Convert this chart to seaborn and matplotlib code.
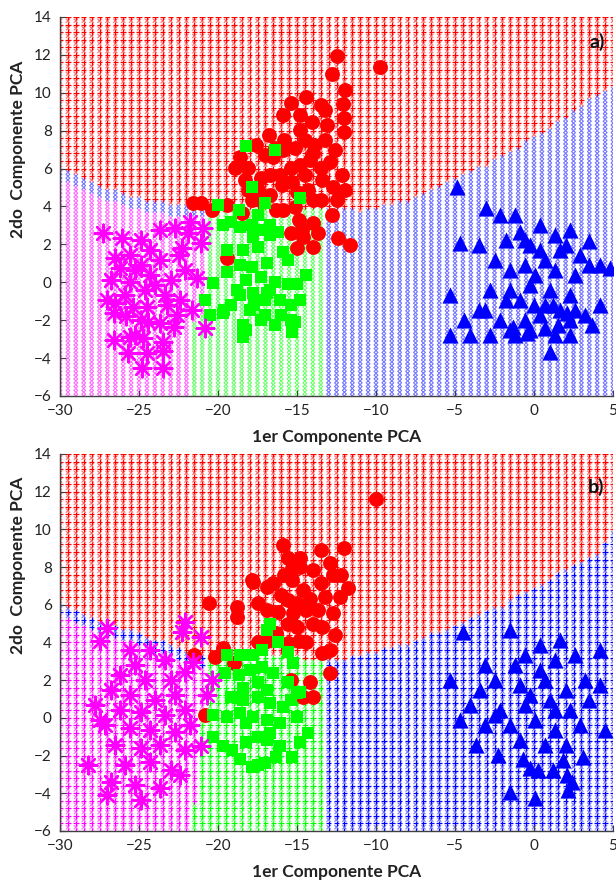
import numpy as np
import pandas as pd
import matplotlib
matplotlib.use("Agg")
import matplotlib.pyplot as plt
import seaborn as sns

# ---------------- Panel a) samples (PC1, PC2) ----------------
red_a = [(-9.75, 11.36), (-12.47, 11.94), (-12.8, 11.0), (-11.96, 10.15), (-12.1, 9.4),
         (-14.4, 9.8), (-13.5, 9.35), (-12.0, 8.67), (-12.0, 7.93), (-13.1, 8.3),
         (-15.4, 9.46), (-14.8, 8.04), (-14.05, 8.46), (-15.9, 8.83), (-16.8, 7.77),
         (-16.4, 7.09), (-17.6, 7.25), (-17.0, 6.72), (-15.8, 7.5), (-15.1, 7.09),
         (-14.5, 7.5), (-13.9, 7.25), (-13.2, 7.5), (-12.6, 6.98), (-12.9, 6.35),
         (-13.5, 6.03), (-14.2, 6.45), (-14.8, 6.19), (-15.4, 6.03), (-16.1, 5.66),
         (-16.7, 5.66), (-17.3, 5.5), (-18.1, 6.03), (-18.6, 6.61), (-18.9, 6.03),
         (-18.3, 5.4), (-17.5, 4.87), (-16.7, 4.6), (-15.95, 5.13), (-15.3, 5.29),
         (-15.0, 4.77), (-14.3, 4.87), (-14.0, 4.34), (-13.5, 4.34), (-12.7, 5.03),
         (-12.5, 4.34), (-12.15, 5.66), (-11.96, 4.87), (-16.3, 3.8), (-15.9, 3.8),
         (-15.1, 3.97), (-14.9, 3.29), (-14.0, 3.13), (-13.7, 2.6), (-15.4, 2.6),
         (-14.7, 2.76), (-14.6, 2.39), (-14.0, 1.86), (-15.0, 1.81), (-12.4, 2.34),
         (-11.65, 1.97), (-19.4, 1.28), (-21.6, 4.18), (-21.1, 4.18), (-20.4, 3.8),
         (-19.4, 4.07), (-18.5, 3.66), (-17.85, 4.34), (-16.5, 6.61), (-15.9, 6.98),
         (-14.0, 6.82), (-14.8, 8.83), (-13.4, 5.4), (-14.5, 5.66), (-12.8, 3.55),
         (-17.2, 4.34), (-18.1, 4.87), (-13.2, 9.1)]
green_a = [(-18.2, 7.2), (-16.4, 7.0), (-17.85, 5.03), (-14.8, 4.45), (-20.0, 4.07),
           (-17.0, 4.18), (-18.7, 3.8), (-17.5, 3.55), (-19.7, 3.02), (-19.2, 3.18),
           (-18.6, 2.92), (-17.85, 3.02), (-17.2, 2.76), (-16.7, 3.0), (-16.2, 2.65),
           (-17.8, 2.4), (-16.7, 2.5), (-19.4, 1.7), (-18.4, 1.7), (-17.5, 1.86),
           (-15.9, 1.6), (-15.6, 1.2), (-18.6, 0.9), (-17.85, 0.8), (-16.9, 1.0),
           (-19.4, 0.55), (-18.2, 0.1), (-17.3, 0.3), (-16.4, 0.0), (-15.6, -0.1),
           (-14.4, 0.4), (-20.3, -0.03), (-18.8, -0.4), (-17.8, -0.55), (-16.9, -0.55),
           (-15.0, -0.1), (-19.2, -1.2), (-18.0, -1.46), (-17.0, -1.7), (-16.1, -0.93),
           (-15.4, -2.0), (-16.4, -2.25), (-17.3, -2.0), (-15.1, -2.1), (-18.4, -2.25),
           (-19.6, -1.46), (-20.8, -0.93), (-20.5, -1.7), (-18.6, -0.67), (-16.7, -0.4),
           (-17.7, -1.2), (-16.0, -1.7), (-14.8, -0.93), (-15.4, -1.2), (-17.0, -0.93),
           (-18.2, -2.5), (-19.7, -1.6), (-18.4, -2.9), (-15.3, -2.6)]
magenta_a = [(-27.3, 2.6), (-26.1, 2.34), (-24.9, 2.23), (-23.7, 2.76), (-22.7, 2.87),
             (-21.9, 2.6), (-24.3, 1.7), (-25.6, 1.44), (-26.5, 1.28), (-26.2, 0.75),
             (-24.9, 0.91), (-23.7, 1.18), (-22.5, 1.44), (-26.8, 0.12), (-25.6, 0.0),
             (-24.3, 0.38), (-23.0, 0.12), (-22.1, 0.65), (-25.9, -0.67), (-24.6, -0.41),
             (-23.35, -0.67), (-22.4, -0.93), (-27.0, -0.93), (-25.25, 0.65), (-24.0, -0.14),
             (-21.8, 3.18), (-20.95, 2.87), (-21.1, 2.07), (-22.3, 1.8), (-21.3, 0.23),
             (-26.6, -1.6), (-25.8, -1.8), (-24.9, -2.0), (-24.4, -2.1), (-23.7, -2.15),
             (-22.8, -2.35), (-22.6, -1.7), (-21.65, -1.46), (-20.8, -2.4), (-26.6, -3.05),
             (-25.6, -2.9), (-25.25, -2.8), (-24.75, -2.95), (-23.5, -3.15), (-23.5, -3.6),
             (-24.5, -3.75), (-25.7, -3.75), (-24.8, -4.5), (-23.5, -4.5), (-26.5, -1.1),
             (-25.4, -1.3), (-24.5, -1.3), (-23.2, -1.2)]
blue_a = [(-4.87, 5.03), (-3.04, 3.92), (-4.7, 2.07), (-3.5, 1.97), (-1.2, 3.55),
          (-0.9, 2.65), (0.4, 3.0), (1.3, 2.5), (2.3, 2.76), (3.5, 2.2), (4.2, 0.9),
          (2.9, 1.44), (-1.8, 2.23), (-0.25, 1.97), (1.65, 1.7), (0.7, 1.18), (-0.57, 0.91),
          (-2.5, 1.18), (-1.5, 0.65), (0.06, 0.38), (1.33, 0.65), (2.6, 0.38), (3.5, 0.9),
          (-5.3, -0.67), (-2.8, -0.41), (-1.5, -0.41), (-0.25, -0.14), (1.0, -0.41),
          (2.3, -0.67), (-3.1, -1.46), (-1.8, -0.93), (-0.9, -0.93), (0.7, -1.2),
          (1.65, -1.46), (2.6, -1.46), (4.2, -1.2), (4.8, 0.75), (-5.3, -2.78),
          (-1.5, -2.5), (-0.25, -2.5), (1.33, -2.78), (2.3, -2.0), (1.0, -3.7),
          (0.4, -1.7), (-0.57, -2.0), (-1.2, -2.78), (-2.15, -2.0), (-2.8, -2.78),
          (-4.4, -2.0), (-4.05, -2.78), (3.2, -1.7), (3.7, -2.25), (-0.6, 2.23),
          (0.4, 1.7), (2.0, 1.97), (-2.15, 3.55), (-3.5, -1.46), (-1.3, -2.35),
          (-0.45, -2.7), (0.7, -2.4), (1.5, -2.25), (2.3, -2.78), (0.0, -1.2),
          (1.2, -1.2), (2.1, -1.6)]

# ---------------- Panel b) samples (PC1, PC2) ----------------
red_b = [(-10.0, 11.6), (-15.9, 9.17), (-15.6, 8.5), (-15.3, 7.95), (-14.8, 8.5),
         (-17.85, 7.3), (-20.6, 6.1), (-18.8, 5.9), (-18.8, 5.35), (-17.8, 7.2),
         (-16.9, 6.95), (-16.5, 7.15), (-17.5, 6.1), (-16.9, 5.7), (-16.0, 6.5),
         (-15.6, 6.25), (-15.0, 6.1), (-15.25, 5.55), (-14.4, 5.7), (-13.7, 5.7),
         (-14.0, 5.0), (-15.6, 5.0), (-15.0, 4.8), (-16.3, 4.5), (-16.9, 4.1),
         (-17.5, 4.0), (-15.6, 3.97), (-14.9, 4.1), (-14.4, 4.0), (-13.4, 3.45),
         (-12.9, 3.6), (-12.6, 4.4), (-12.9, 2.38), (-14.2, 1.9), (-14.0, 1.1),
         (-14.6, 1.1), (-15.4, 2.0), (-19.0, 2.9), (-19.7, 3.7), (-20.2, 3.25),
         (-21.5, 3.35), (-20.8, 0.17), (-14.8, 8.0), (-14.0, 7.85), (-12.9, 8.2),
         (-12.7, 7.6), (-13.5, 7.15), (-14.6, 6.8), (-15.3, 7.3), (-12.3, 6.4),
         (-12.7, 5.55), (-13.4, 4.8), (-12.0, 9.0), (-12.2, 7.6), (-11.8, 6.9),
         (-13.5, 8.9), (-13.2, 6.4), (-14.2, 6.3), (-16.2, 5.6), (-15.8, 7.6)]
green_b = [(-16.7, 5.0), (-16.9, 4.65), (-16.2, 4.0), (-15.6, 3.5), (-17.2, 3.6),
           (-17.85, 3.35), (-18.6, 3.35), (-19.4, 3.35), (-15.25, 2.9), (-19.55, 2.4),
           (-18.7, 2.3), (-18.0, 2.55), (-17.2, 2.7), (-16.5, 2.4), (-15.6, 1.9),
           (-15.0, 1.3), (-18.4, 1.6), (-17.5, 1.9), (-16.9, 1.5), (-19.2, 1.1),
           (-18.4, 0.95), (-17.5, 1.1), (-16.7, 0.8), (-15.9, 0.58), (-15.4, 0.95),
           (-20.3, 0.16), (-19.4, 0.05), (-18.6, 0.26), (-17.8, 0.05), (-16.9, -0.1),
           (-16.1, -0.27), (-15.0, 0.05), (-14.3, -0.8), (-20.3, -1.0), (-19.7, -1.5),
           (-19.1, -1.7), (-18.2, -1.27), (-17.5, -1.0), (-16.9, -1.17), (-16.1, -1.5),
           (-15.3, -2.07), (-14.8, -1.27), (-18.6, -2.2), (-17.85, -2.6), (-17.0, -2.4),
           (-16.3, -2.07), (-16.7, -0.8), (-18.2, -0.27), (-14.8, 1.37), (-17.5, -2.5)]
magenta_b = [(-24.3, 3.6), (-23.35, 3.07), (-25.25, 2.8), (-26.2, 2.28), (-24.6, 2.0),
             (-23.0, 2.0), (-22.1, 2.43), (-26.8, 1.46), (-25.6, 1.2), (-24.0, 0.95),
             (-22.7, 1.2), (-27.8, 0.7), (-26.2, 0.42), (-24.9, 0.32), (-23.35, 0.16),
             (-22.1, 0.42), (-27.15, -0.37), (-25.6, -0.53), (-24.3, -0.64), (-22.7, -0.75),
             (-21.8, -0.37), (-26.5, -1.44), (-24.9, -1.6), (-23.7, -1.44), (-22.1, -1.7),
             (-25.9, -2.5), (-24.3, -2.34), (-23.0, -2.76), (-28.2, -2.5), (-26.8, -3.4),
             (-25.25, -3.56), (-23.7, -3.72), (-24.9, -4.35), (-27.0, -4.1), (-22.4, -3.03),
             (-27.5, 4.1), (-27.0, 4.77), (-22.1, 5.1), (-22.3, 4.55), (-21.1, 4.3),
             (-21.6, 2.96), (-20.4, 2.0), (-20.7, 1.2), (-21.1, -1.5), (-25.6, 3.6),
             (-27.5, -0.1)]
blue_b = [(-2.3, -1.97), (-0.7, -2.2), (-0.25, -2.65), (0.25, -2.76), (1.2, -2.76),
          (1.85, -2.23), (2.1, -3.03), (2.4, -3.4), (2.15, -3.82), (3.1, -2.1),
          (-1.5, -3.93), (0.06, -4.25), (-4.5, 4.56), (-1.5, 4.66), (0.4, 3.87),
          (1.65, 4.13), (-0.6, 3.34), (1.33, 3.07), (2.6, 3.34), (4.2, 3.6),
          (-5.3, 2.0), (-3.4, 1.47), (-2.5, 2.0), (-0.9, 1.73), (0.7, 2.0),
          (2.0, 1.47), (3.2, 2.0), (-4.05, 0.7), (-2.15, 0.42), (-0.6, 0.7),
          (1.0, 0.95), (2.3, 0.42), (3.5, 0.95), (-4.7, -0.1), (-3.1, -0.37),
          (-1.5, -0.37), (0.06, -0.1), (1.33, -0.64), (2.9, -0.37), (4.5, -0.64),
          (-3.7, -1.44), (-0.9, -1.17), (0.7, -1.44), (2.0, -1.44), (-2.5, 0.16),
          (-0.25, 1.2), (0.4, 2.54), (1.33, 0.42), (-1.2, 2.8), (-3.1, 2.8),
          (4.2, 1.73)]

# ---------------- Decision-region boundaries ----------------
# lower edge of the red region, sampled along PC1
edge_a_x = [-30, -28, -26, -24, -22, -20, -16, -13, -11, -9, -7, -5, -3, -1, 1, 3, 5]
edge_a_y = [6.0, 5.3, 4.7, 4.3, 4.1, 4.0, 4.0, 3.9, 3.8, 4.1, 4.7, 5.5, 6.2, 7.2, 8.2, 9.4, 10.4]
edge_b_x = [-30, -29, -27.5, -25, -23, -21, -19, -16, -13.5, -12, -10, -8, -6, -4, -2, 0, 2, 4, 5]
edge_b_y = [6.1, 5.7, 5.1, 4.5, 3.9, 3.3, 3.35, 3.35, 3.1, 3.2, 3.5, 4.0, 4.6, 5.3, 6.0, 6.9, 7.9, 8.8, 10.0]
# magenta | green split along PC2, and green | blue split
split_a_y = [-6, -2.2, -1.4, 14]
split_a_x = [-21.7, -21.7, -20.7, -20.7]
split_b_y = [-6, -4.5, 0, 1.5, 14]
split_b_x = [-21.8, -21.5, -21.0, -20.5, -20.5]
green_blue_a = -13.1
green_blue_b = -13.2
band_a = 0.6
band_b = 0.6

classes = ["red", "magenta", "green", "blue"]
strong = {"red": "#ff0000", "magenta": "#ff00ff", "green": "#00ff00", "blue": "#0000ff"}
light = {"red": "#ff6060", "magenta": "#ff60ff", "green": "#60ff60", "blue": "#6a6aff"}


def region_grid(edge_x, edge_y, split_y, split_x, gb, band):
    xs = np.arange(-30, 5.001, 0.5)
    ys = np.arange(-6, 14.001, 0.2)
    gx, gy = np.meshgrid(xs, ys)
    row = np.meshgrid(xs, np.arange(len(ys)))[1]
    gx, gy, row = gx.ravel(), gy.ravel(), row.ravel()
    top = np.interp(gx, edge_x, edge_y)
    mg = np.interp(gy, split_y, split_x)
    cls = np.where(gy >= top, "red",
          np.where(gx >= gb, "blue",
          np.where(gx >= mg, "green",
          np.where(gy >= top - band, "blue", "magenta"))))
    return pd.DataFrame({"x": gx, "y": gy, "cls": cls, "even": row % 2 == 0})


def to_frame(pts):
    arr = np.array(pts)
    return pd.DataFrame({"x": arr[:, 0], "y": arr[:, 1]})


plt.rcParams["font.family"] = ["Lato", "DejaVu Sans"]
fig = plt.figure(figsize=(6.16, 8.81), dpi=100)
ax_a = fig.add_axes([60 / 616, 1 - 396 / 881, 553 / 616, 379 / 881])
ax_b = fig.add_axes([60 / 616, 1 - 831 / 881, 553 / 616, 377 / 881])

panels = [
    (ax_a, region_grid(edge_a_x, edge_a_y, split_a_y, split_a_x, green_blue_a, band_a),
     red_a, green_a, magenta_a, blue_a, "a)", False, 0.65, 0.934),
    (ax_b, region_grid(edge_b_x, edge_b_y, split_b_y, split_b_x, green_blue_b, band_b),
     red_b, green_b, magenta_b, blue_b, "b)", True, 0.705, 0.912),
]

for ax, grid, red, green, magenta, blue, tag, plus_all, ylab_pos, tag_y in panels:
    plus_mask = grid["even"] & ((grid["cls"] == "red") | plus_all)
    sns.scatterplot(data=grid[~plus_mask], x="x", y="y", hue="cls", palette=light,
                    hue_order=classes, marker="x", s=9, linewidth=0.8, alpha=0.9,
                    legend=False, ax=ax, zorder=1)
    sns.scatterplot(data=grid[plus_mask], x="x", y="y", hue="cls", palette=strong,
                    hue_order=classes, marker="+", s=16, linewidth=0.9,
                    legend=False, ax=ax, zorder=1)

    sns.scatterplot(data=to_frame(red), x="x", y="y", color=strong["red"], marker="o",
                    s=115, linewidth=0, legend=False, ax=ax, zorder=3)
    sns.scatterplot(data=to_frame(green), x="x", y="y", color=strong["green"], marker="s",
                    s=85, linewidth=0, legend=False, ax=ax, zorder=3)
    sns.scatterplot(data=to_frame(magenta), x="x", y="y", color=strong["magenta"],
                    marker=(8, 2, 0), s=160, linewidth=1.7, legend=False, ax=ax, zorder=3)
    sns.scatterplot(data=to_frame(blue), x="x", y="y", color=strong["blue"], marker="^",
                    s=135, linewidth=0, legend=False, ax=ax, zorder=3)

    ax.set_xlim(-30, 5)
    ax.set_ylim(-6, 14)
    ax.set_xticks(np.arange(-30, 6, 5))
    ax.set_yticks(np.arange(-6, 15, 2))
    ax.tick_params(direction="in", length=4, width=0.8, colors="#404040",
                   labelcolor="#222222", labelsize=11, pad=6)
    for side in ("top", "right"):
        ax.spines[side].set_visible(False)
    for side in ("left", "bottom"):
        ax.spines[side].set_color("#404040")
        ax.spines[side].set_linewidth(1.0)
    ax.set_xlabel("1er Componente PCA", fontsize=12.5, fontweight="bold", color="#222222")
    ax.set_ylabel("2do  Componente PCA", fontsize=12.5, fontweight="bold", color="#222222")
    ax.xaxis.set_label_coords(0.5, -0.108)
    ax.yaxis.set_label_coords(-0.076, ylab_pos)
    ax.xaxis.label.set_va("center")
    ax.yaxis.label.set_va("center")
    ax.text(0.985, tag_y, tag, transform=ax.transAxes, ha="right", va="center",
            fontsize=14, fontweight="bold", color="#111111", zorder=5)

fig.savefig("out.png", dpi=100)
